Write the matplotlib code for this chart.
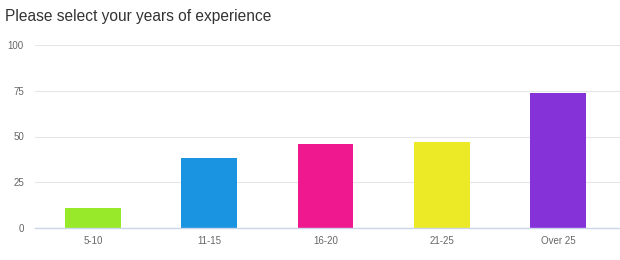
import matplotlib
matplotlib.use("Agg")
import matplotlib.pyplot as plt

categories = ["5-10", "11-15", "16-20", "21-25", "Over 25"]
values = [11, 38, 46, 47, 74]
colors = ["#97e929", "#1a93e0", "#f0188e", "#ecea27", "#8533d8"]
yticks = [0, 25, 50, 75, 100]

plt.rcParams['font.family'] = ['Liberation Sans', 'DejaVu Sans']
fig = plt.figure(figsize=(6.2, 2.6), dpi=100)
ax = fig.add_axes([0.0565, 0.123, 0.9435, 0.704])
x = list(range(len(categories)))
ax.bar(x, values, width=0.48, color=colors, zorder=3)
ax.set_xlim(-0.5, len(categories) - 0.465)
ax.set_ylim(0, 100)
ax.set_yticks(yticks)
ax.set_xticks(x)
ax.set_xticklabels(categories)
ax.grid(axis='y', color='#e6e6e6', linewidth=0.8, zorder=0)
for s in ['top', 'right', 'left']:
    ax.spines[s].set_visible(False)
ax.spines['bottom'].set_color('#ccd6eb')
ax.spines['bottom'].set_linewidth(1)
ax.spines['bottom'].set_zorder(4)
ax.tick_params(axis='both', length=0, labelsize=7, labelcolor='#666666')
ax.tick_params(axis='y', pad=8)
ax.tick_params(axis='x', pad=6)
fig.text(0.008, 0.935, "Please select your years of experience", fontsize=11.2, color='#333333', ha='left', va='center')
fig.savefig("out.png", dpi=100)
